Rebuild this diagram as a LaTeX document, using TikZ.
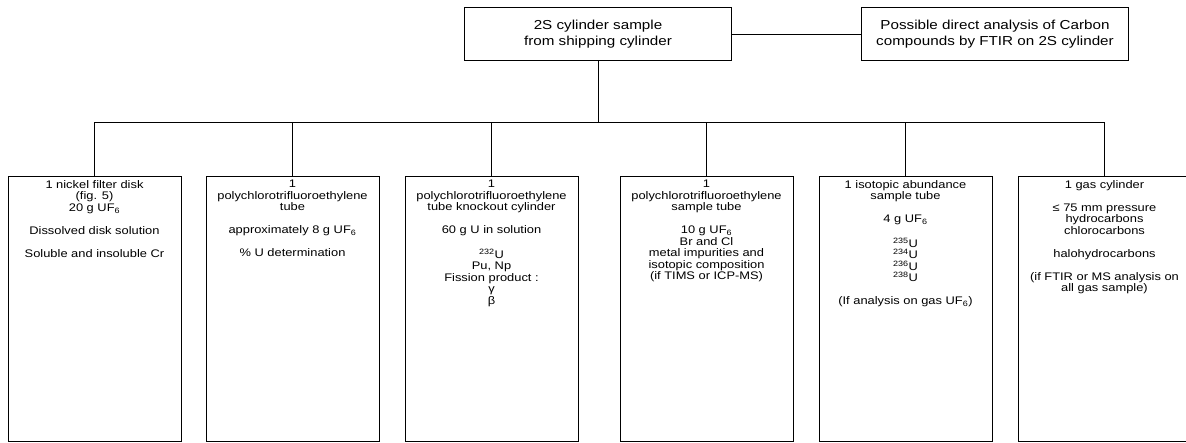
\documentclass[tikz,border=0pt]{standalone}
\usepackage{fontspec}
\setmainfont{Liberation Sans}
\newfontfamily\widefont[FakeStretch=1.17]{Liberation Sans}
\usetikzlibrary{positioning}

\newcommand{\leaftext}[1]{\parbox[t][265pt][t]{173pt}{\centering\vspace*{4pt}#1}}

\begin{document}
\begin{tikzpicture}[x=1pt,y=-1pt,line width=0.8pt]
            \tikzstyle{head}=[draw, minimum width=267pt, minimum height=53pt, align=center,
                font=\widefont\fontsize{13}{16}\selectfont]
            \tikzstyle{leaf}=[draw, inner sep=0pt, anchor=north,
                font=\widefont\fontsize{11}{11.5}\selectfont]
            \useasboundingbox (0,0) rectangle (1186,442);

            \node[head] (S) at (598,34)   {2S cylinder sample\\from shipping cylinder};
            \node[head] (C) at (995,34)   {Possible direct analysis of Carbon\\compounds by FTIR on 2S cylinder};

            \node[leaf] (D) at (94.5,176)  {\leaftext{1 nickel filter disk\\(fig. 5)\\20 g UF\textsubscript{6}\\[11.5pt]
                Dissolved disk solution\\[11.5pt]Soluble and insoluble Cr}};
            \node[leaf] (T) at (292.5,176) {\leaftext{1\\polychlorotrifluoroethylene\\tube\\[11.5pt]
                approximately 8 g UF\textsubscript{6}\\[11.5pt]\% U determination}};
            \node[leaf] (K) at (491.5,176) {\leaftext{1\\polychlorotrifluoroethylene\\tube knockout cylinder\\[11.5pt]
                60 g U in solution\\[11.5pt]\textsuperscript{232}U\\Pu, Np\\Fission product :\\γ\\β}};
            \node[leaf] (P) at (706.5,176) {\leaftext{1\\polychlorotrifluoroethylene\\sample tube\\[11.5pt]
                10 g UF\textsubscript{6}\\Br and Cl\\metal impurities and\\isotopic composition\\(if TIMS or ICP-MS)}};
            \node[leaf] (I) at (905.5,176) {\leaftext{1 isotopic abundance\\sample tube\\[11.5pt]4 g UF\textsubscript{6}\\[11.5pt]
                \textsuperscript{235}U\\\textsuperscript{234}U\\\textsuperscript{236}U\\\textsuperscript{238}U\\[11.5pt]
                (If analysis on gas UF\textsubscript{6})}};
            \node[leaf] (G) at (1104.5,176) {\leaftext{1 gas cylinder\\[11.5pt]≤ 75 mm pressure\\hydrocarbons\\chlorocarbons\\[11.5pt]
                halohydrocarbons\\[11.5pt](if FTIR or MS analysis on\\all gas sample)}};

            \coordinate (bus) at (0,122);
            \path (S) edge (C);
            \draw (S.south) -- (S.south |- bus);
            \draw (D.north |- bus) -- (G.north |- bus);
            \foreach \n in {D,T,K,P,I,G}
                \draw (\n.north) -- (\n.north |- bus);

        \end{tikzpicture}
\end{document}
